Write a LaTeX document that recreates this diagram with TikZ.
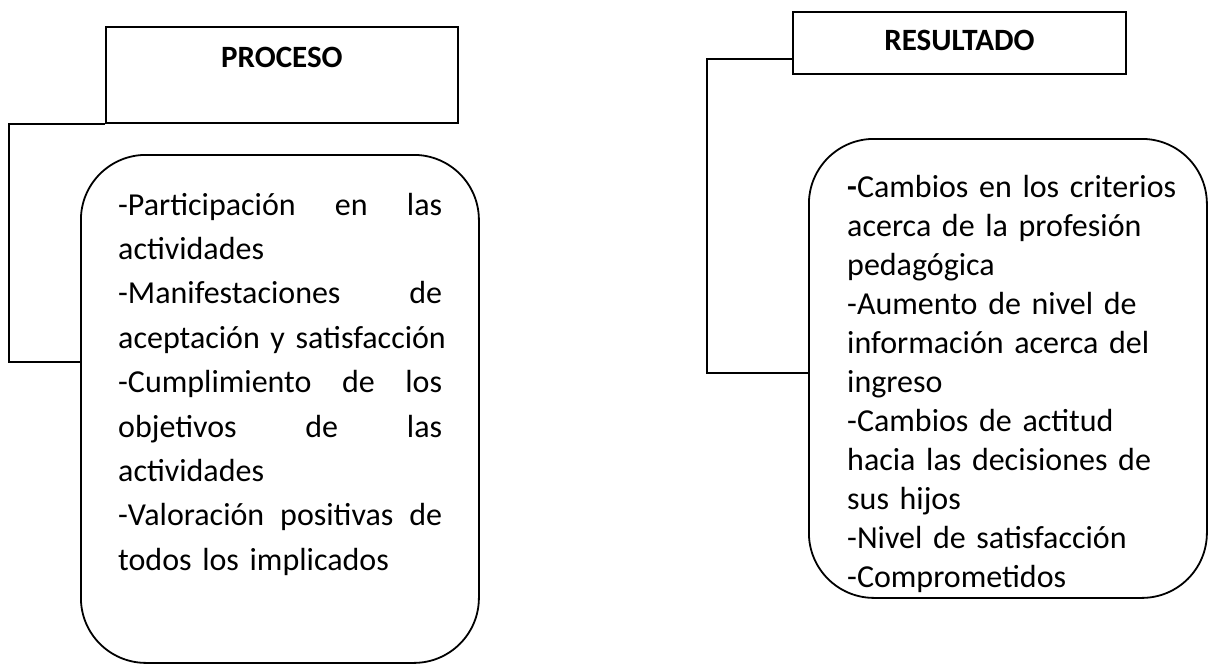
\documentclass[tikz,border=0pt]{standalone}
\usepackage{fontspec}
\setmainfont{Carlito}
\tikzset{
  headbox/.style={draw, line width=1.8pt, inner sep=0, align=center,
    font=\bfseries\fontsize{31}{37}\selectfont},
  roundbox/.style={draw, line width=1.8pt, rounded corners=65pt, inner sep=0},
  itemtext/.style={inner sep=0, anchor=base west, align=left},
  link/.style={line width=1.8pt}
}

\begin{document}
\begin{tikzpicture}[x=1pt,y=-1pt]

    % Page frame
    \useasboundingbox (0,0) rectangle (1208,664);

    % Headings
    \node[headbox, anchor=north west, text width=352pt, text height=41pt, text depth=55pt]
      (proceso) at (105,26) {PROCESO};
    \node[headbox, anchor=north west, text width=333pt, text height=39pt, text depth=23pt]
      (resultado) at (792,11) {RESULTADO};

    % Rounded boxes
    \node[roundbox, anchor=north west, minimum width=398pt, minimum height=508pt]
      (procbox) at (80,154) {};
    \node[roundbox, anchor=north west, minimum width=398pt, minimum height=459pt]
      (resbox) at (808,138) {};

    % Box texts
    \node[itemtext, text width=324pt, font=\fontsize{32}{44.4}\selectfont] (proctext) at (118,215) {%
      -Participación\hfill en\hfill las\\
      actividades\\
      -Manifestaciones\hfill de\\
      \mbox{aceptación y satisfacción}\\
      -Cumplimiento\hfill de\hfill los\\
      objetivos\hfill de\hfill las\\
      actividades\\
      -Valoración\hfill positivas\hfill de\\
      todos los implicados};
    \node[itemtext, text width=350pt, font=\fontsize{32}{39}\selectfont] (restext) at (847,197) {%
      \textbf{-}Cambios en los criterios\\
      acerca de la profesión\\
      pedagógica\\
      -Aumento de nivel de\\
      información acerca del\\
      ingreso\\
      -Cambios de actitud\\
      hacia las decisiones de\\
      sus hijos\\
      -Nivel de satisfacción\\
      -Comprometidos};

    % Connectors
    \coordinate (lturn) at (9,362);
    \coordinate (rturn) at (707,373);
    \draw[link] (proceso.south west) -| (lturn) -- (lturn -| procbox.west);
    \draw[link] ([yshift=-16pt]resultado.west) -| (rturn) -- (rturn -| resbox.west);

\end{tikzpicture}
\end{document}
